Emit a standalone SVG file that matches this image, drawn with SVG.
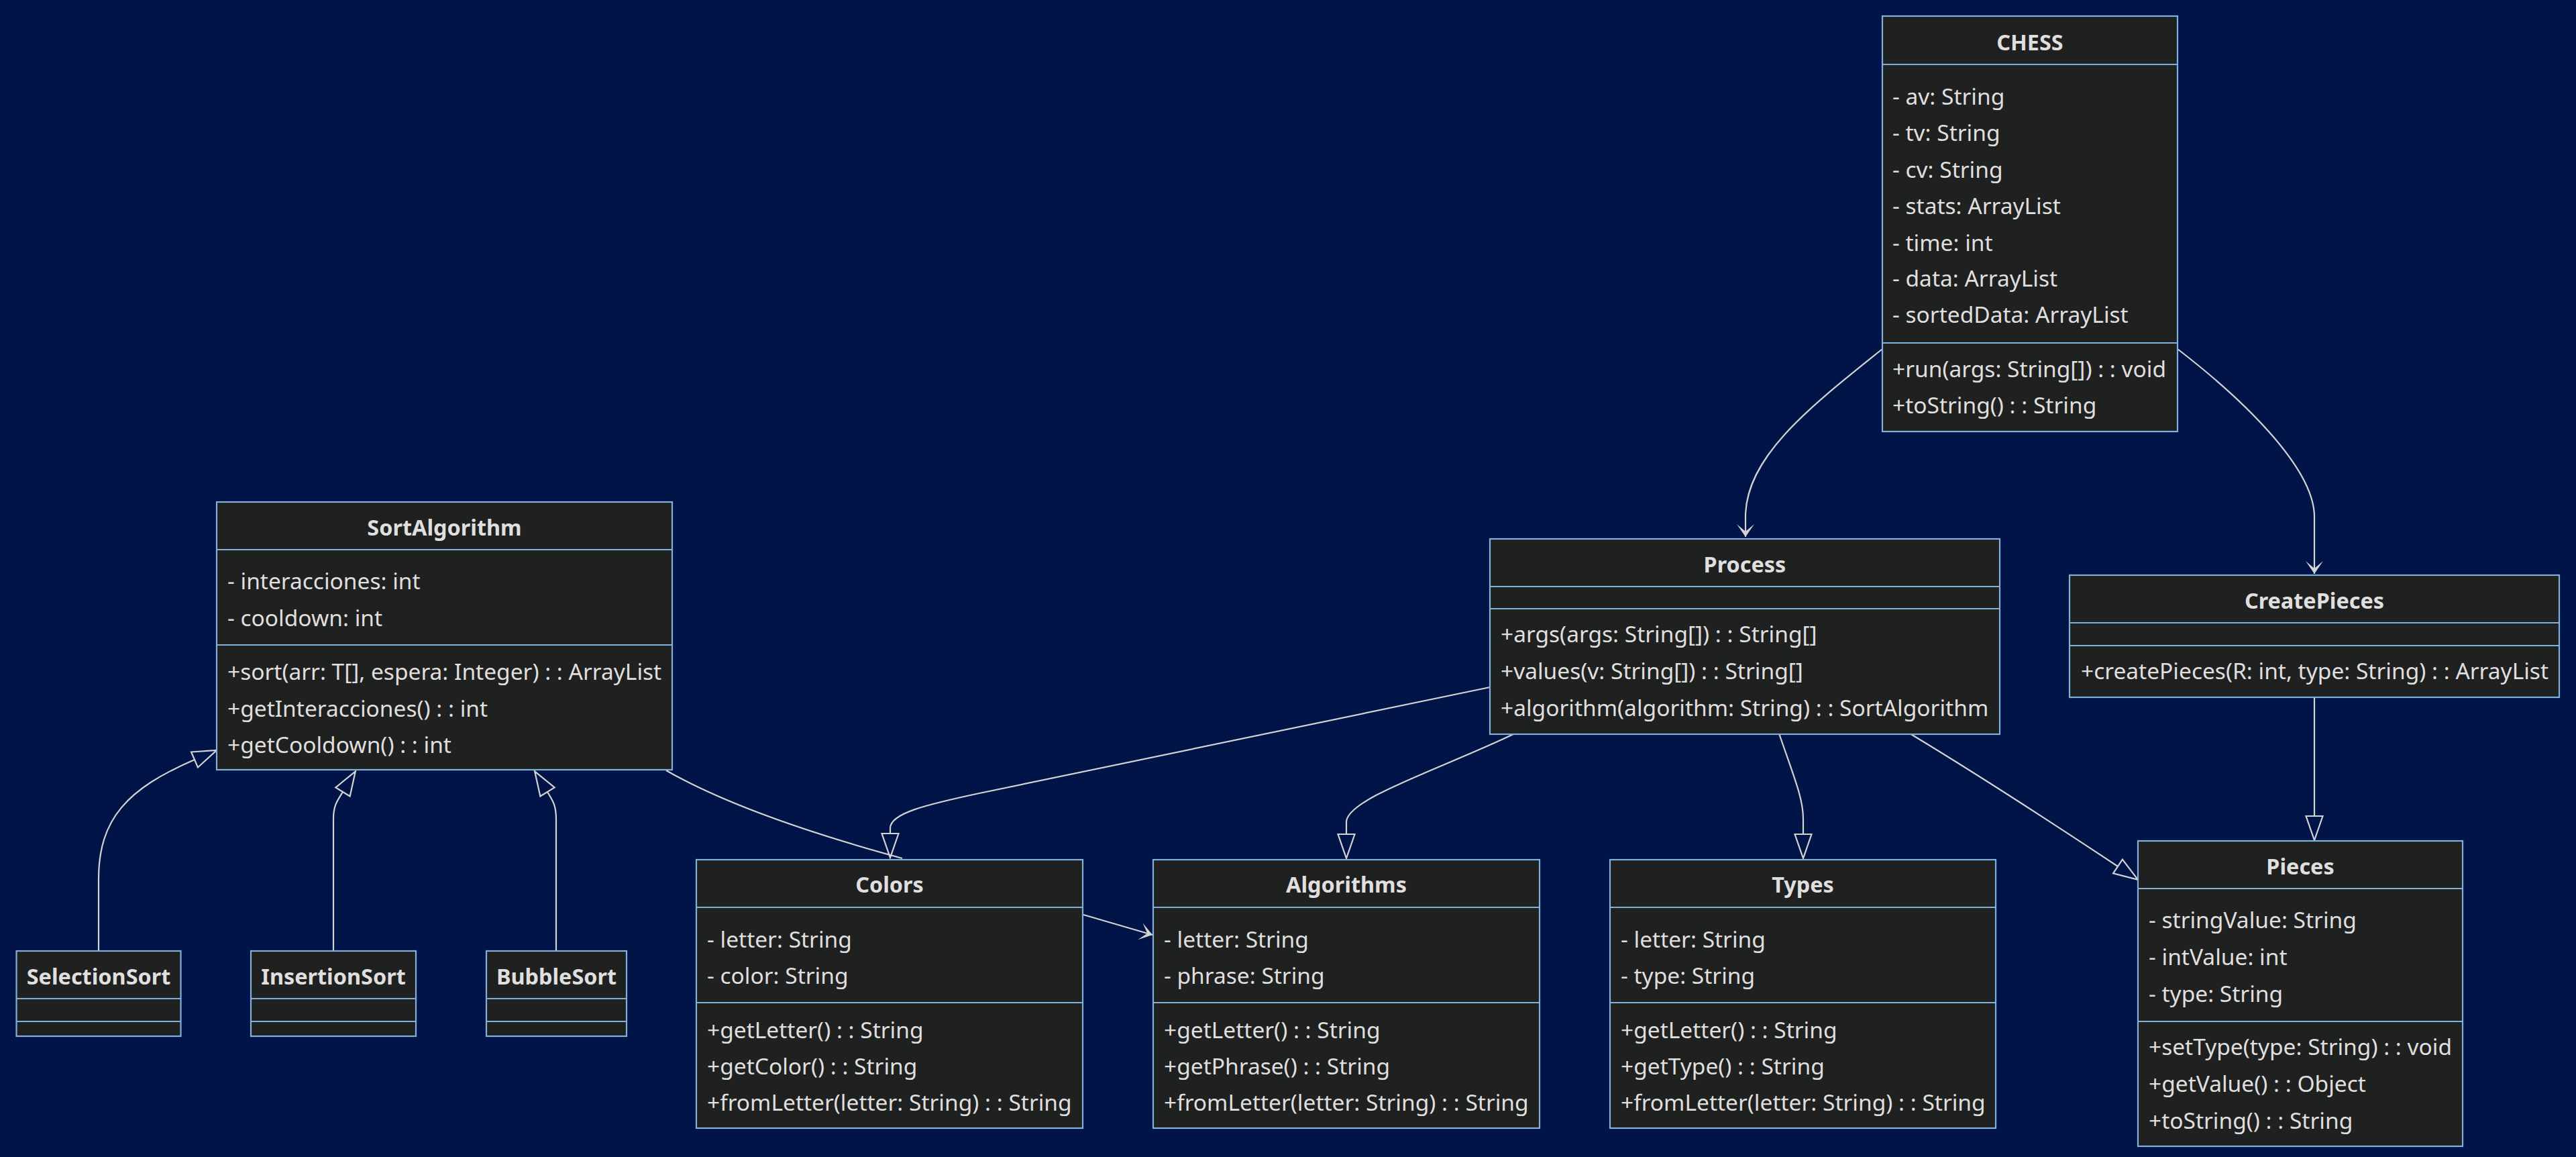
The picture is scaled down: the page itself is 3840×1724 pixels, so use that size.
<svg xmlns="http://www.w3.org/2000/svg" width="3840" height="1724" viewBox="0 0 3840 1724">
<style>
.bg{fill:#001448}
.node rect{fill:#1f2020;stroke:#81b1db;stroke-width:2.2}
.node line{stroke:#81b1db;stroke-width:2.2}
.node text{font-family:"Noto Sans","Open Sans",sans-serif;font-size:33.5px;fill:#e0dfdf}
.node text.h{font-weight:bold;text-anchor:middle;font-size:32.4px}
.edge{fill:none;stroke:#d3d3d3;stroke-width:2.2}
.ext{marker-end:url(#tri)}
.dep{marker-end:url(#vee)}
</style>
<defs>
<marker id="tri" markerUnits="userSpaceOnUse" viewBox="-3 -3 42 31" markerWidth="42" markerHeight="31" refX="0" refY="12.5" orient="auto" overflow="visible">
<path d="M0,0 L36,12.5 L0,25 Z" fill="#001448" stroke="#d3d3d3" stroke-width="2.2"/>
</marker>
<marker id="vee" markerUnits="userSpaceOnUse" viewBox="-2 -2 24 30" markerWidth="24" markerHeight="30" refX="19" refY="13" orient="auto" overflow="visible">
<path d="M0,0 L19,13 L0,26 L11,13 Z" fill="#d3d3d3"/>
</marker>
</defs>
<rect class="bg" x="0" y="0" width="3840" height="1724"/>

<g id="connectors">
<path class="edge dep" d="M2806,520 C2700,605 2602,680 2602,770 L2602,800"/>
<path class="edge dep" d="M3246,520 C3350,600 3450,700 3450,770 L3450,855"/>
<path class="edge ext" d="M2221,1024 L1460,1182 C1380,1199 1327,1212 1327,1234 L1327,1242"/>
<path class="edge" d="M993,1148 Q1110,1215 1345,1279"/>
<path class="edge dep" d="M1615,1363 L1718,1393"/>
<path class="edge ext" d="M2258,1093 C2150,1145 2007,1190 2007,1225 L2007,1243"/>
<path class="edge ext" d="M2652,1093 C2675,1160 2688,1190 2688,1220 L2688,1243"/>
<path class="edge ext" d="M2847,1093 C2950,1155 3080,1240 3157,1291"/>
<path class="edge ext" d="M3450,1039 L3450,1216"/>
<path class="edge ext" d="M147,1417 L147,1310 C147,1220 190,1175 290,1132"/>
<path class="edge ext" d="M497,1417 L497,1220 C497,1200 503,1193 511,1180"/>
<path class="edge ext" d="M829,1417 L829,1220 C829,1200 824,1193 816,1180"/>
</g>

<g id="CHESS" class="node">
<rect x="2806" y="24" width="440" height="619"/>
<line x1="2806" y1="96" x2="3246" y2="96"/>
<line x1="2806" y1="511" x2="3246" y2="511"/>
<text class="h" x="3026" y="75">CHESS</text>
<text x="2821" y="156">- av: String</text>
<text x="2821" y="210">- tv: String</text>
<text x="2821" y="265">- cv: String</text>
<text x="2821" y="319">- stats: ArrayList</text>
<text x="2821" y="374">- time: int</text>
<text x="2821" y="427">- data: ArrayList</text>
<text x="2821" y="481">- sortedData: ArrayList</text>
<text x="2821" y="562">+run(args: String[]) : : void</text>
<text x="2821" y="616">+toString() : : String</text>
</g>

<g id="SortAlgorithm" class="node">
<rect x="323" y="748" width="679" height="399"/>
<line x1="323" y1="819" x2="1002" y2="819"/>
<line x1="323" y1="961" x2="1002" y2="961"/>
<text class="h" x="662.5" y="798">SortAlgorithm</text>
<text x="339" y="878">- interacciones: int</text>
<text x="339" y="933">- cooldown: int</text>
<text x="339" y="1013">+sort(arr: T[], espera: Integer) : : ArrayList</text>
<text x="339" y="1068">+getInteracciones() : : int</text>
<text x="339" y="1122">+getCooldown() : : int</text>
</g>

<g id="Process" class="node">
<rect x="2221" y="803" width="760" height="291"/>
<line x1="2221" y1="874" x2="2981" y2="874"/>
<line x1="2221" y1="907" x2="2981" y2="907"/>
<text class="h" x="2601" y="853">Process</text>
<text x="2237" y="957">+args(args: String[]) : : String[]</text>
<text x="2237" y="1012">+values(v: String[]) : : String[]</text>
<text x="2237" y="1067">+algorithm(algorithm: String) : : SortAlgorithm</text>
</g>

<g id="CreatePieces" class="node">
<rect x="3085" y="857" width="730" height="182"/>
<line x1="3085" y1="928" x2="3815" y2="928"/>
<line x1="3085" y1="962" x2="3815" y2="962"/>
<text class="h" x="3450" y="907">CreatePieces</text>
<text x="3102" y="1012">+createPieces(R: int, type: String) : : ArrayList</text>
</g>

<g id="Pieces" class="node">
<rect x="3187" y="1253" width="484" height="455"/>
<line x1="3187" y1="1324" x2="3671" y2="1324"/>
<line x1="3187" y1="1522" x2="3671" y2="1522"/>
<text class="h" x="3429" y="1303">Pieces</text>
<text x="3203" y="1383">- stringValue: String</text>
<text x="3203" y="1438">- intValue: int</text>
<text x="3203" y="1493">- type: String</text>
<text x="3203" y="1572">+setType(type: String) : : void</text>
<text x="3203" y="1627">+getValue() : : Object</text>
<text x="3203" y="1682">+toString() : : String</text>
</g>

<g id="Colors" class="node">
<rect x="1038" y="1281" width="576" height="400"/>
<line x1="1038" y1="1352" x2="1614" y2="1352"/>
<line x1="1038" y1="1494" x2="1614" y2="1494"/>
<text class="h" x="1326" y="1330">Colors</text>
<text x="1054" y="1412">- letter: String</text>
<text x="1054" y="1466">- color: String</text>
<text x="1054" y="1547">+getLetter() : : String</text>
<text x="1054" y="1601">+getColor() : : String</text>
<text x="1054" y="1655">+fromLetter(letter: String) : : String</text>
</g>

<g id="Algorithms" class="node">
<rect x="1719" y="1281" width="576" height="400"/>
<line x1="1719" y1="1352" x2="2295" y2="1352"/>
<line x1="1719" y1="1494" x2="2295" y2="1494"/>
<text class="h" x="2007" y="1330">Algorithms</text>
<text x="1735" y="1412">- letter: String</text>
<text x="1735" y="1466">- phrase: String</text>
<text x="1735" y="1547">+getLetter() : : String</text>
<text x="1735" y="1601">+getPhrase() : : String</text>
<text x="1735" y="1655">+fromLetter(letter: String) : : String</text>
</g>

<g id="Types" class="node">
<rect x="2400" y="1281" width="575" height="400"/>
<line x1="2400" y1="1352" x2="2975" y2="1352"/>
<line x1="2400" y1="1494" x2="2975" y2="1494"/>
<text class="h" x="2687.5" y="1330">Types</text>
<text x="2416" y="1412">- letter: String</text>
<text x="2416" y="1466">- type: String</text>
<text x="2416" y="1547">+getLetter() : : String</text>
<text x="2416" y="1601">+getType() : : String</text>
<text x="2416" y="1655">+fromLetter(letter: String) : : String</text>
</g>

<g id="SelectionSort" class="node">
<rect x="24.5" y="1417" width="245" height="127"/>
<line x1="24.5" y1="1488" x2="269.5" y2="1488"/>
<line x1="24.5" y1="1522" x2="269.5" y2="1522"/>
<text class="h" x="147" y="1467">SelectionSort</text>
</g>

<g id="InsertionSort" class="node">
<rect x="374" y="1417" width="246" height="127"/>
<line x1="374" y1="1488" x2="620" y2="1488"/>
<line x1="374" y1="1522" x2="620" y2="1522"/>
<text class="h" x="497" y="1467">InsertionSort</text>
</g>

<g id="BubbleSort" class="node">
<rect x="725" y="1417" width="209" height="127"/>
<line x1="725" y1="1488" x2="934" y2="1488"/>
<line x1="725" y1="1522" x2="934" y2="1522"/>
<text class="h" x="829.5" y="1467">BubbleSort</text>
</g>
</svg>
